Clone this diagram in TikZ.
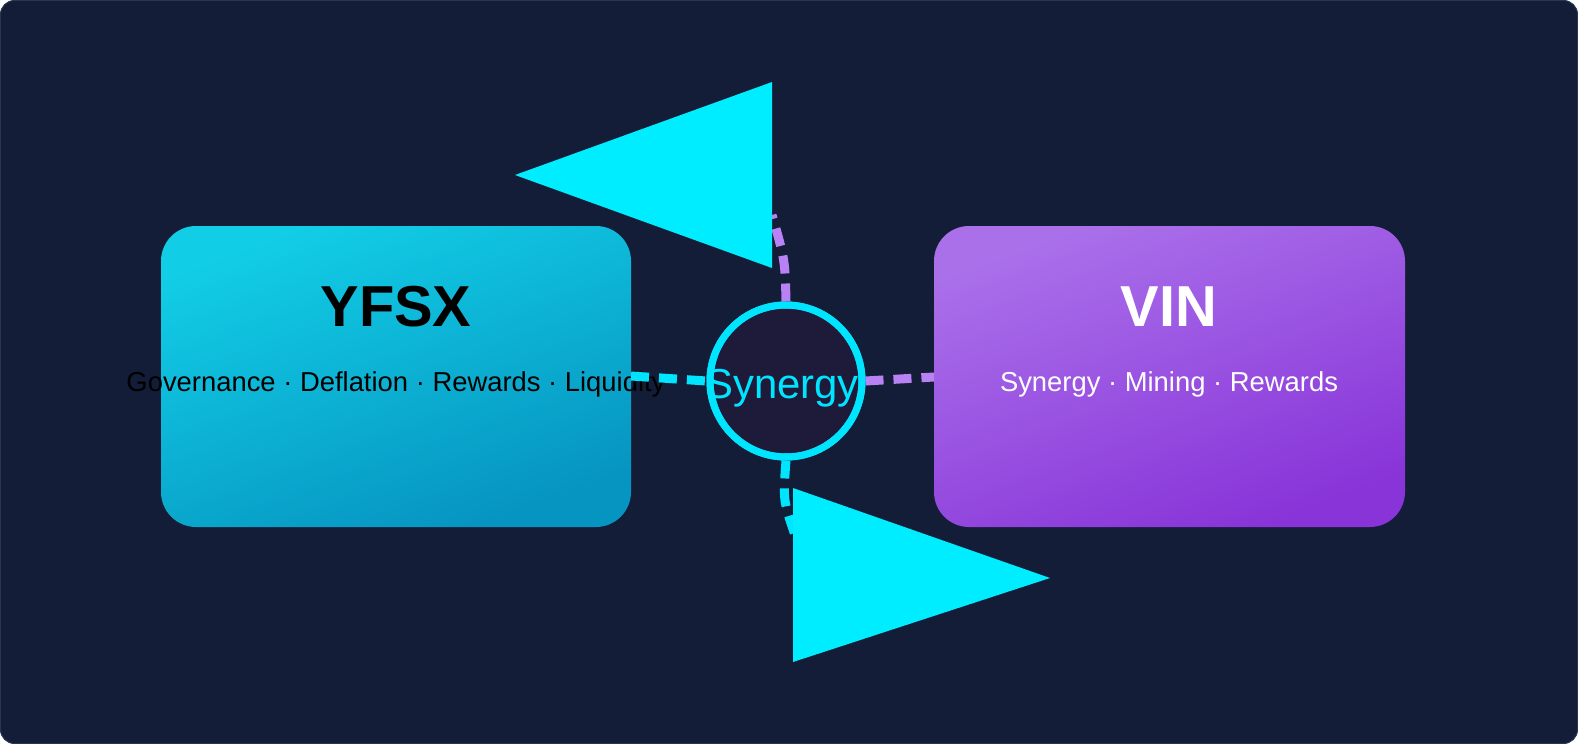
\documentclass[tikz,border=0pt]{standalone}
\usepackage{fontspec}
\setmainfont{Liberation Sans}
\begin{document}
\begin{tikzpicture}[x=1bp,y=-1bp,
  box/.style={rounded corners=35bp,minimum width=470bp,minimum height=301bp,draw=none,inner sep=0pt},
  title/.style={font=\fontsize{58}{60}\selectfont\bfseries},
  sub/.style={font=\fontsize{27.5}{30}\selectfont},
  dcy/.style={color={rgb,255:red,0;green,229;blue,255},line width=9bp,dash pattern=on 18bp off 10bp},
  dpu/.style={color={rgb,255:red,184;green,130;blue,245},line width=9bp,dash pattern=on 18bp off 10bp},
  tri/.style={fill={rgb,255:red,0;green,236;blue,255}}]
\definecolor{bg}{RGB}{19,29,56}
\definecolor{cyA}{RGB}{18,205,230}
\definecolor{cyB}{RGB}{6,148,192}
\definecolor{puA}{RGB}{170,112,234}
\definecolor{puB}{RGB}{136,52,216}
\definecolor{cy}{RGB}{0,229,255}
\useasboundingbox (0,0) rectangle (1578,744);
\fill[bg,draw={rgb,255:red,40;green,55;blue,80},line width=1bp,rounded corners=14bp] (0.5,0.5) rectangle (1577.5,743.5);
\shade[rounded corners=35bp,top color=cyA,bottom color=cyB,shading angle=20] (161,226) rectangle (631,527);
\shade[rounded corners=35bp,top color=puA,bottom color=puB,shading angle=20] (934,226) rectangle (1405,527);
\node[box] (y) at (396,376.5) {};
\node[box] (v) at (1169.5,376.5) {};
\node[title,text=black] (yt) at (396,307) {YFSX};
\node[sub,text=black] (ys) at (396,384) {Governance · Deflation · Rewards · Liquidity};
\node[title,text=white] (vt) at (1169,307) {VIN};
\node[sub,text=white] (vs) at (1169,384) {Synergy · Mining · Rewards};
\coordinate (a1) at (631,376);
\coordinate (a2) at (934,377);
\coordinate (t1) at (772,215);
\coordinate (b1) at (795,535);
\node[circle,minimum size=152bp,draw=cy,line width=7bp,fill={rgb,255:red,30;green,26;blue,58}] (s) at (786,381) {};
\draw[dcy] (a1) -- (s.west);
\draw[dpu] (s.east) -- (a2);
\draw[dpu] (s.north) .. controls (785,260) .. (t1);
\draw[dcy] (s.south) .. controls (783,500) .. (b1);
\node[circle,minimum size=152bp,draw=cy,line width=7bp] at (s) {};
\node[font=\fontsize{42}{44}\selectfont,text=cy] (st) at (782,388) {Synergy};
\fill[tri] (515,175) -- (772,82) -- (772,268) -- cycle;
\fill[tri] (793,488) -- (1050,578) -- (793,662) -- cycle;
\end{tikzpicture}
\end{document}
